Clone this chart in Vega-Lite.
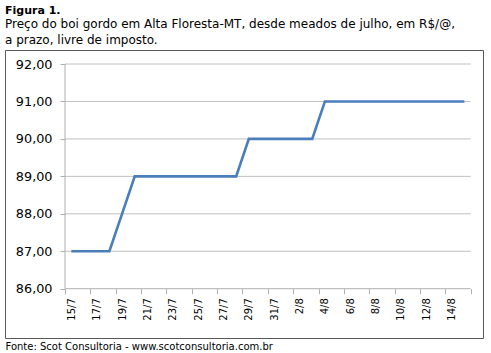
{
  "$schema": "https://vega.github.io/schema/vega-lite/v6.json",
  "width": 478,
  "height": 288,
  "padding": {"left": 5, "top": 5, "right": 8, "bottom": 0},
  "background": "white",
  "title": {
    "text": "Figura 1.",
    "subtitle": ["Preço do boi gordo em Alta Floresta-MT, desde meados de julho, em R$/@,", "a prazo, livre de imposto."],
    "anchor": "start",
    "frame": "group",
    "font": "DejaVu Sans",
    "fontSize": 11,
    "fontWeight": "bold",
    "color": "#000000",
    "subtitleFont": "DejaVu Sans",
    "subtitleFontSize": 12,
    "subtitleColor": "#000000",
    "subtitlePadding": 3,
    "subtitleLineHeight": 16,
    "offset": 4
  },
  "config": {"view": {"stroke": "#595959", "strokeWidth": 1}},
  "resolve": {"axis": {"x": "independent", "y": "independent"}},
  "layer": [
    {
      "data": {"values": [{"v": 87}, {"v": 88}, {"v": 89}, {"v": 90}, {"v": 91}, {"v": 92}]},
      "mark": {"type": "rule", "color": "#C0C0C0", "strokeWidth": 1},
      "encoding": {
        "y": {"field": "v", "type": "quantitative", "scale": {"domain": [84.684, 92.374], "nice": false, "zero": false}, "axis": null},
        "x": {
          "datum": {"year": 2013, "month": 7, "date": 14, "hours": 12, "utc": true},
          "type": "temporal",
          "scale": {"type": "utc", "domain": [{"year": 2013, "month": 7, "date": 9, "hours": 18, "minutes": 24, "utc": true}, {"year": 2013, "month": 8, "date": 16, "hours": 11, "minutes": 17, "utc": true}]},
          "axis": {
            "orient": "bottom",
            "offset": -49.3,
            "values": [
              {"year": 2013, "month": 7, "date": 14, "hours": 12, "utc": true},
              {"year": 2013, "month": 7, "date": 16, "hours": 12, "utc": true},
              {"year": 2013, "month": 7, "date": 18, "hours": 12, "utc": true},
              {"year": 2013, "month": 7, "date": 20, "hours": 12, "utc": true},
              {"year": 2013, "month": 7, "date": 22, "hours": 12, "utc": true},
              {"year": 2013, "month": 7, "date": 24, "hours": 12, "utc": true},
              {"year": 2013, "month": 7, "date": 26, "hours": 12, "utc": true},
              {"year": 2013, "month": 7, "date": 28, "hours": 12, "utc": true},
              {"year": 2013, "month": 7, "date": 30, "hours": 12, "utc": true},
              {"year": 2013, "month": 8, "date": 1, "hours": 12, "utc": true},
              {"year": 2013, "month": 8, "date": 3, "hours": 12, "utc": true},
              {"year": 2013, "month": 8, "date": 5, "hours": 12, "utc": true},
              {"year": 2013, "month": 8, "date": 7, "hours": 12, "utc": true},
              {"year": 2013, "month": 8, "date": 9, "hours": 12, "utc": true},
              {"year": 2013, "month": 8, "date": 11, "hours": 12, "utc": true},
              {"year": 2013, "month": 8, "date": 13, "hours": 12, "utc": true},
              {"year": 2013, "month": 8, "date": 15, "hours": 12, "utc": true}
            ],
            "labels": false,
            "ticks": true,
            "tickSize": 5,
            "tickColor": "#B0B0B0",
            "domain": false,
            "grid": false,
            "title": "Fonte: Scot Consultoria - www.scotconsultoria.com.br",
            "titleAnchor": "start",
            "titleFont": "DejaVu Sans",
            "titleFontSize": 10,
            "titleFontWeight": "normal",
            "titleColor": "#000000",
            "titlePadding": 47
          }
        },
        "x2": {"datum": {"year": 2013, "month": 8, "date": 15, "hours": 12, "utc": true}}
      }
    },
    {
      "data": {"values": [{}]},
      "mark": {"type": "rule", "color": "#B0B0B0", "strokeWidth": 1},
      "encoding": {
        "x": {"datum": {"year": 2013, "month": 7, "date": 14, "hours": 12, "utc": true}, "type": "temporal", "axis": null},
        "y": {"datum": 86, "type": "quantitative", "axis": null},
        "y2": {"datum": 92}
      }
    },
    {
      "data": {"values": [{}]},
      "mark": {"type": "rule", "color": "#B0B0B0", "strokeWidth": 1},
      "encoding": {
        "x": {"datum": {"year": 2013, "month": 7, "date": 14, "hours": 12, "utc": true}, "type": "temporal", "axis": null},
        "x2": {"datum": {"year": 2013, "month": 8, "date": 15, "hours": 12, "utc": true}},
        "y": {"datum": 86, "type": "quantitative", "axis": null}
      }
    },
    {
      "data": {
        "values": [
          {"date": "2013-07-15", "preco": 87},
          {"date": "2013-07-16", "preco": 87},
          {"date": "2013-07-17", "preco": 87},
          {"date": "2013-07-18", "preco": 87},
          {"date": "2013-07-19", "preco": 88},
          {"date": "2013-07-20", "preco": 89},
          {"date": "2013-07-21", "preco": 89},
          {"date": "2013-07-22", "preco": 89},
          {"date": "2013-07-23", "preco": 89},
          {"date": "2013-07-24", "preco": 89},
          {"date": "2013-07-25", "preco": 89},
          {"date": "2013-07-26", "preco": 89},
          {"date": "2013-07-27", "preco": 89},
          {"date": "2013-07-28", "preco": 89},
          {"date": "2013-07-29", "preco": 90},
          {"date": "2013-07-30", "preco": 90},
          {"date": "2013-07-31", "preco": 90},
          {"date": "2013-08-01", "preco": 90},
          {"date": "2013-08-02", "preco": 90},
          {"date": "2013-08-03", "preco": 90},
          {"date": "2013-08-04", "preco": 91},
          {"date": "2013-08-05", "preco": 91},
          {"date": "2013-08-06", "preco": 91},
          {"date": "2013-08-07", "preco": 91},
          {"date": "2013-08-08", "preco": 91},
          {"date": "2013-08-09", "preco": 91},
          {"date": "2013-08-10", "preco": 91},
          {"date": "2013-08-11", "preco": 91},
          {"date": "2013-08-12", "preco": 91},
          {"date": "2013-08-13", "preco": 91},
          {"date": "2013-08-14", "preco": 91},
          {"date": "2013-08-15", "preco": 91}
        ]
      },
      "mark": {"type": "line", "color": "#4A7EBB", "strokeWidth": 2.6},
      "encoding": {
        "x": {
          "field": "date",
          "type": "temporal",
          "axis": {
            "orient": "bottom",
            "offset": -49.3,
            "values": [
              {"year": 2013, "month": 7, "date": 15, "utc": true},
              {"year": 2013, "month": 7, "date": 17, "utc": true},
              {"year": 2013, "month": 7, "date": 19, "utc": true},
              {"year": 2013, "month": 7, "date": 21, "utc": true},
              {"year": 2013, "month": 7, "date": 23, "utc": true},
              {"year": 2013, "month": 7, "date": 25, "utc": true},
              {"year": 2013, "month": 7, "date": 27, "utc": true},
              {"year": 2013, "month": 7, "date": 29, "utc": true},
              {"year": 2013, "month": 7, "date": 31, "utc": true},
              {"year": 2013, "month": 8, "date": 2, "utc": true},
              {"year": 2013, "month": 8, "date": 4, "utc": true},
              {"year": 2013, "month": 8, "date": 6, "utc": true},
              {"year": 2013, "month": 8, "date": 8, "utc": true},
              {"year": 2013, "month": 8, "date": 10, "utc": true},
              {"year": 2013, "month": 8, "date": 12, "utc": true},
              {"year": 2013, "month": 8, "date": 14, "utc": true}
            ],
            "ticks": false,
            "domain": false,
            "grid": false,
            "labelAngle": 270,
            "labelPadding": 9,
            "labelFont": "DejaVu Sans",
            "labelFontSize": 10,
            "labelColor": "#000000",
            "labelOverlap": false,
            "labelFlush": false,
            "labelBound": false,
            "labelExpr": "utcFormat(datum.value, '%-d/%-m')",
            "title": null
          }
        },
        "y": {
          "field": "preco",
          "type": "quantitative",
          "axis": {
            "orient": "left",
            "offset": -60,
            "values": [86, 87, 88, 89, 90, 91, 92],
            "domain": false,
            "grid": false,
            "ticks": true,
            "tickSize": 5,
            "tickColor": "#B0B0B0",
            "labelPadding": 8,
            "labelFont": "DejaVu Sans",
            "labelFontSize": 12.8,
            "labelColor": "#000000",
            "labelExpr": "replace(format(datum.value, '.2f'), '.', ',')",
            "title": null
          }
        }
      }
    }
  ]
}
